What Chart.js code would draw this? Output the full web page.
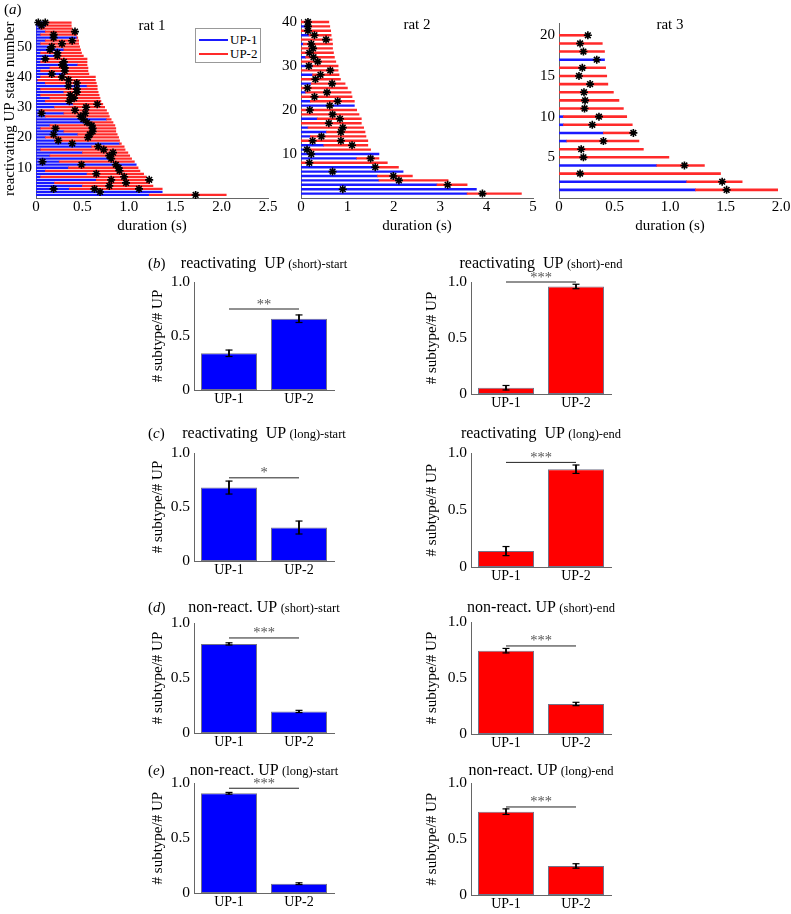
<!DOCTYPE html>
<html>
<head>
<meta charset="utf-8">
<title>UP state reactivation</title>
<script src="https://cdn.jsdelivr.net/npm/chart.js@4.4.1/dist/chart.umd.min.js"></script>
<style>
html,body{margin:0;padding:0;background:#fff;}
body{width:791px;height:914px;position:relative;overflow:hidden;font-family:"Liberation Serif","Times New Roman",serif;color:#000;}
canvas{position:absolute;}
.tx{position:absolute;white-space:pre;line-height:1;}
.legend{position:absolute;border:1px solid #999;background:#fff;}
.sw{position:absolute;height:1.6px;}
</style>
</head>
<body>
<script>
// ================= DATA =================
// rat 1: duration of each reactivating UP state (end), UP-1 part (blue, from 0), reactivation marks
const rat1End  = [2.05,1.36,1.36,1.26,1.22,1.20,1.19,1.16,1.12,1.10,1.08,1.06,1.03,1.01,0.99,0.96,0.95,0.92,0.90,0.89,0.875,0.86,0.86,0.85,0.83,0.81,0.79,0.78,0.76,0.74,0.72,0.70,0.69,0.68,0.67,0.66,0.66,0.65,0.64,0.64,0.57,0.56,0.56,0.55,0.55,0.55,0.51,0.49,0.48,0.47,0.46,0.46,0.45,0.44,0.43,0.39,0.38,0.38];
const rat1Blue = [1.22,1.36,0.36,0.5,0.2,0.65,0.05,0.55,0.1,0.35,1.08,0.25,0.8,0.15,0.5,0.05,0.6,0.9,0.2,0.1,0.45,0.3,0.05,0.15,0.55,0.76,0.1,0.3,0.05,0.2,0.4,0.1,0.15,0.05,0.3,0.05,0.55,0.1,0.02,0.05,0.3,0.05,0.15,0.45,0.05,0.1,0.2,0.05,0.3,0.15,0.05,0.1,0.44,0.05,0.1,0.05,0.1,0.12];
const rat1StarX   = [0.10,0.025,0.06,0.42,0.19,0.19,0.39,0.28,0.17,0.15,0.23,0.23,0.10,0.30,0.28,0.31,0.31,0.17,0.28,0.35,0.44,0.35,0.44,0.44,0.37,0.41,0.36,0.66,0.54,0.42,0.06,0.53,0.48,0.51,0.55,0.60,0.61,0.21,0.61,0.58,0.19,0.56,0.24,0.39,0.67,0.73,0.83,0.79,0.81,0.07,0.86,0.49,0.89,0.90,0.65,0.95,0.81,1.22,0.97,0.79,0.19,0.63,1.11,0.69,1.72];
const rat1StarRow = [58,58,57,55,54,53,52,51,50,49,48,47,46,45,44,43,42,41,40,39,38,37,36,35,34,33,32,31,30,29,28,28,27,26,25,24,23,23,22,21,21,20,19,18,17,16,15,14,13,12,11,11,10,9,8,7,6,6,5,4,3,3,3,2,1];
const rat1XTicks = [0,0.5,1,1.5,2,2.5];
const rat1XLabels = ['0','0.5','1.0','1.5','2.0','2.5'];
const rat1YTicks = [10,20,30,40,50];
const rat1YLabels = ['10','20','30','40','50'];

// rat 2
const rat2End  = [4.75,3.78,3.58,3.17,2.4,2.2,2.1,1.86,1.68,1.68,1.5,1.44,1.44,1.4,1.38,1.35,1.3,1.3,1.25,1.2,1.15,1.15,1.1,1.08,1.0,0.95,0.85,0.82,0.8,0.8,0.75,0.72,0.7,0.68,0.68,0.67,0.65,0.64,0.62,0.6];
const rat2Blue = [3.58,3.78,2.93,1.68,1.65,2.2,1.6,0,1.2,1.68,0.13,0.49,0,0.2,0.55,0.15,0,0.35,0,0,1.15,0.2,0,0.1,0,0.22,0,0.25,0,0.24,0,0.1,0,0,0.05,0,0.17,0,0.1,0];
const rat2StarX   = [3.91,0.90,3.16,2.11,1.99,0.68,1.60,0.18,1.50,0.22,0.13,1.10,0.86,0.25,0.44,0.86,0.90,0.60,0.84,0.68,0.19,0.62,0.79,0.29,0.56,0.14,0.67,0.31,0.42,0.63,0.17,0.36,0.27,0.18,0.26,0.22,0.54,0.29,0.15,0.15,0.15];
const rat2StarRow = [1,2,3,4,5,6,7,8,9,10,11,12,13,13,14,15,16,17,18,19,20,21,22,23,24,25,26,27,28,29,30,31,32,33,34,35,36,37,38,39,40];
const rat2XTicks = [0,1,2,3,4,5];
const rat2XLabels = ['0','1','2','3','4','5'];
const rat2YTicks = [10,20,30,40];
const rat2YLabels = ['10','20','30','40'];

// rat 3
const rat3End  = [1.97,1.65,1.455,1.31,0.99,0.76,0.72,0.66,0.66,0.61,0.58,0.54,0.49,0.44,0.43,0.42,0.41,0.41,0.39,0.26];
const rat3Blue = [1.23,1.15,0,0.88,0,0,0.07,0.40,0.04,0.04,0,0,0,0,0,0,0.41,0,0,0];
const rat3StarX   = [1.51,1.47,0.19,1.13,0.22,0.20,0.40,0.67,0.30,0.36,0.23,0.235,0.225,0.28,0.18,0.21,0.34,0.22,0.19,0.26];
const rat3StarRow = [1,2,3,4,5,6,7,8,9,10,11,12,13,14,15,16,17,18,19,20];
const rat3XTicks = [0,0.5,1,1.5,2];
const rat3XLabels = ['0','0.5','1.0','1.5','2.0'];
const rat3YTicks = [5,10,15,20];
const rat3YLabels = ['5','10','15','20'];

// bar panels: fraction of subtype (UP-1, UP-2), s.e.m., significance bar height
const barCats = ['UP-1','UP-2'];
const barYTicks = [0,0.5,1];
const barYLabels = ['0','0.5','1.0'];
const reactShortStartMean = [0.34,0.66],  reactShortStartErr = [0.03,0.035], reactShortStartSig = 0.75;
const reactShortEndMean   = [0.056,0.96], reactShortEndErr   = [0.02,0.02],  reactShortEndSig   = 1.0;
const reactLongStartMean  = [0.68,0.31],  reactLongStartErr  = [0.06,0.06],  reactLongStartSig  = 0.77;
const reactLongEndMean    = [0.14,0.86],  reactLongEndErr    = [0.04,0.037], reactLongEndSig    = 0.92;
const nonShortStartMean   = [0.81,0.196], nonShortStartErr   = [0.01,0.01],  nonShortStartSig   = 0.864;
const nonShortEndMean     = [0.744,0.268],nonShortEndErr     = [0.02,0.015], nonShortEndSig     = 0.786;
const nonLongStartMean    = [0.909,0.085],nonLongStartErr    = [0.008,0.008],nonLongStartSig    = 0.955;
const nonLongEndMean      = [0.746,0.26], nonLongEndErr      = [0.025,0.02], nonLongEndSig      = 0.788;

// ================= RENDERING =================
const FONT = '"Liberation Serif","Times New Roman",serif';
const AXIS = '#666';
const LINE_BLUE = '#1a1aff';
const LINE_RED = '#ff2a2a';

function makeCanvas(left, top, w, h) {
  const c = document.createElement('canvas');
  c.width = w; c.height = h;
  c.style.left = left + 'px'; c.style.top = top + 'px';
  c.style.width = w + 'px'; c.style.height = h + 'px';
  document.body.appendChild(c);
  return c;
}
function addText(html, x, y, size, o = {}) {
  const d = document.createElement('div');
  d.className = 'tx';
  d.innerHTML = html;
  d.style.fontSize = size + 'px';
  d.style.left = x + 'px';
  d.style.top = y + 'px';
  const tx = o.left ? '0' : '-50%';
  const ty = o.top ? '0' : '-50%';
  d.style.transform = 'translate(' + tx + ',' + ty + ')';
  if (o.color) d.style.color = o.color;
  document.body.appendChild(d);
  return d;
}

function raster(s) {
  const YW = s.yw, R = 12, XH = 40;
  const cl = Math.round(s.left) - YW;
  const w = Math.round(s.right) + R - cl;
  const h = s.bottom + XH;
  const cv = makeCanvas(cl, 0, w, h);
  const up1 = [], up2 = [];
  s.ends.forEach((e, i) => {
    const r = i + 1;
    if (s.blues[i] > 0) up1.push({y: r, x: [0, s.blues[i]]});
    if (e > s.blues[i]) up2.push({y: r, x: [s.blues[i], e]});
  });
  const stars = s.starX.map((x, i) => ({x: x, y: s.starRow[i]}));
  const tickFont = {family: FONT, size: 15};
  new Chart(cv, {
    type: 'bar',
    data: {datasets: [
      {type: 'scatter', label: 'reactivation', data: stars, pointStyle: 'star', pointRadius: 4,
       pointBorderWidth: 1.6, borderColor: '#000', backgroundColor: '#000', order: 0, clip: false},
      {label: 'UP-1', indexAxis: 'y', data: up1, backgroundColor: LINE_BLUE, barThickness: s.thick, grouped: false, order: 2},
      {label: 'UP-2', indexAxis: 'y', data: up2, backgroundColor: LINE_RED, barThickness: s.thick, grouped: false, order: 1}
    ]},
    options: {
      responsive: false, animation: false, events: [], devicePixelRatio: 1,
      layout: {padding: {left: 0, right: R, top: s.top, bottom: 0}},
      plugins: {legend: {display: false}, title: {display: false}, tooltip: {enabled: false}},
      scales: {
        x: {type: 'linear', min: 0, max: s.xMax, offset: false,
            afterBuildTicks: sc => { sc.ticks = s.xTicks.map(v => ({value: v})); },
            afterFit: sc => { sc.height = XH; },
            ticks: {callback: v => s.xLabels[s.xTicks.indexOf(v)], font: tickFont, color: '#000', padding: 0, maxRotation: 0, autoSkip: false},
            grid: {display: false, drawTicks: false, offset: false}, border: {display: true, color: AXIS, width: 1},
            title: {display: true, text: 'duration (s)', font: {family: FONT, size: 15}, color: '#000', padding: {top: 0, bottom: 3}}},
        y: {type: 'linear', min: 0, max: s.yMax, offset: false,
            afterBuildTicks: sc => { sc.ticks = s.yTicks.map(v => ({value: v})); },
            afterFit: sc => { sc.width = YW; },
            ticks: {callback: v => s.yLabels[s.yTicks.indexOf(v)], font: tickFont, color: '#000', padding: 4, autoSkip: false},
            grid: {display: false, drawTicks: false, offset: false}, border: {display: true, color: AXIS, width: 1},
            title: s.yTitle ? {display: true, text: s.yTitle, font: {family: FONT, size: 15}, color: '#000', padding: {top: 1, bottom: 0}} : {display: false}}
      }
    }
  });
}

raster({ends: rat1End, blues: rat1Blue, starX: rat1StarX, starRow: rat1StarRow, xMax: 2.5, yMax: 59,
  xTicks: rat1XTicks, xLabels: rat1XLabels, yTicks: rat1YTicks, yLabels: rat1YLabels,
  left: 36, right: 268, top: 19.5, bottom: 198, yw: 36, thick: 1.6, yTitle: 'reactivating UP state number'});
raster({ends: rat2End, blues: rat2Blue, starX: rat2StarX, starRow: rat2StarRow, xMax: 5, yMax: 40.5,
  xTicks: rat2XTicks, xLabels: rat2XLabels, yTicks: rat2YTicks, yLabels: rat2YLabels,
  left: 301, right: 533, top: 19.8, bottom: 198, yw: 30, thick: 1.7});
raster({ends: rat3End, blues: rat3Blue, starX: rat3StarX, starRow: rat3StarRow, xMax: 2, yMax: 21.5,
  xTicks: rat3XTicks, xLabels: rat3XLabels, yTicks: rat3YTicks, yLabels: rat3YLabels,
  left: 559, right: 781, top: 23.1, bottom: 198, yw: 30, thick: 1.9});

addText('(<i>a</i>)', 4, 9, 15, {left: true});
addText('rat 1', 152, 25, 15);
addText('rat 2', 417, 24, 15);
addText('rat 3', 670, 24, 15);

// legend (panel a, rat 1)
(function () {
  const lg = document.createElement('div');
  lg.className = 'legend';
  lg.style.left = '195px'; lg.style.top = '28px'; lg.style.width = '64px'; lg.style.height = '33px';
  document.body.appendChild(lg);
  const s1 = document.createElement('div'); s1.className = 'sw';
  s1.style.cssText += 'left:3px;top:10px;width:29px;background:' + LINE_BLUE + ';';
  const s2 = document.createElement('div'); s2.className = 'sw';
  s2.style.cssText += 'left:3px;top:24px;width:29px;background:' + LINE_RED + ';';
  lg.appendChild(s1); lg.appendChild(s2);
  addText('UP-1', 230, 39, 13, {left: true});
  addText('UP-2', 230, 53, 13, {left: true});
})();

function barPanel(p) {
  const YW = 60, R = 12, T = 30, XH = 32, W = 140;
  const cl = Math.round(p.left) - YW;
  const ct = Math.round(p.top) - T;
  const h = Math.round(p.bottom) - ct + XH;
  const w = YW + W + R;
  const cv = makeCanvas(cl, ct, w, h);
  const lo = p.means.map((m, i) => m - p.errs[i]);
  const hi = p.means.map((m, i) => m + p.errs[i]);
  const capStyle = {type: 'line', showLine: false, pointStyle: 'line', pointRadius: 3.5, pointBorderWidth: 1.2,
                    pointBorderColor: '#000', borderColor: '#000', backgroundColor: '#000', clip: false};
  const chart = new Chart(cv, {
    type: 'bar',
    data: {labels: barCats, datasets: [
      {type: 'line', label: 'significance', data: [p.sig, p.sig], borderColor: '#222', borderWidth: 1, pointRadius: 0, order: 0, clip: false},
      Object.assign({label: 'sem low', data: lo, order: 1}, capStyle),
      Object.assign({label: 'sem high', data: hi, order: 1}, capStyle),
      {label: 'sem', data: lo.map((l, i) => [l, hi[i]]), backgroundColor: '#000', barThickness: 1.2, grouped: false, order: 2},
      {label: 'fraction', data: p.means, backgroundColor: p.color, borderColor: 'rgba(0,0,40,0.55)', borderWidth: 1,
       borderSkipped: false, barPercentage: 0.8, categoryPercentage: 1, grouped: false, order: 3}
    ]},
    options: {
      responsive: false, animation: false, events: [], devicePixelRatio: 1,
      layout: {padding: {left: 0, right: R, top: T + (p.top - Math.round(p.top)), bottom: 0}},
      plugins: {legend: {display: false}, title: {display: false}, tooltip: {enabled: false}},
      scales: {
        x: {type: 'category', offset: true, afterFit: sc => { sc.height = XH; },
            ticks: {font: {family: FONT, size: 14}, color: '#000', padding: 1},
            grid: {display: false, drawTicks: false}, border: {display: true, color: AXIS, width: 1}},
        y: {type: 'linear', min: 0, max: 1, offset: false,
            afterBuildTicks: sc => { sc.ticks = barYTicks.map(v => ({value: v})); },
            afterFit: sc => { sc.width = YW; },
            ticks: {callback: v => barYLabels[barYTicks.indexOf(v)], font: {family: FONT, size: 15.5}, color: '#000', padding: 4, autoSkip: false},
            grid: {display: false, drawTicks: false}, border: {display: true, color: AXIS, width: 1},
            title: {display: true, text: '# subtype/# UP', font: {family: FONT, size: 15}, color: '#000',
                    padding: {top: Math.max(0, p.yTitleX - cl - 9), bottom: 0}}}
      }
    }
  });
  const xs = chart.scales.x, ys = chart.scales.y;
  const cx = cl + (xs.getPixelForValue(0) + xs.getPixelForValue(1)) / 2;
  const cy = ct + ys.getPixelForValue(p.sig);
  addText(p.stars, cx, cy - 12.5, 14.5, {top: true, color: '#555'});
  const tx = cl + YW + W / 2;
  addText(p.title, tx, p.titleY, 16);
  if (p.letter) addText(p.letter, 148, p.titleY, 15, {left: true});
}

const BLUE = '#0000ff', RED = '#ff0000';
const LX = 193.7, RX = 471.3;
const ttl = (a, b) => a + '<span style="font-size:12.5px">' + b + '</span>';

barPanel({left: LX, top: 282, bottom: 390, means: reactShortStartMean, errs: reactShortStartErr, sig: reactShortStartSig, stars: '**',
  color: BLUE, yTitleX: 158, titleY: 263, title: ttl('reactivating  UP ', '(short)-start'), letter: '(<i>b</i>)'});
barPanel({left: RX, top: 282, bottom: 394, means: reactShortEndMean, errs: reactShortEndErr, sig: reactShortEndSig, stars: '***',
  color: RED, yTitleX: 432, titleY: 263, title: ttl('reactivating  UP ', '(short)-end')});
barPanel({left: LX, top: 453, bottom: 560.5, means: reactLongStartMean, errs: reactLongStartErr, sig: reactLongStartSig, stars: '*',
  color: BLUE, yTitleX: 158, titleY: 433, title: ttl('reactivating  UP ', '(long)-start'), letter: '(<i>c</i>)'});
barPanel({left: RX, top: 453.3, bottom: 566.7, means: reactLongEndMean, errs: reactLongEndErr, sig: reactLongEndSig, stars: '***',
  color: RED, yTitleX: 432, titleY: 433, title: ttl('reactivating  UP ', '(long)-end')});
barPanel({left: LX, top: 623, bottom: 733.3, means: nonShortStartMean, errs: nonShortStartErr, sig: nonShortStartSig, stars: '***',
  color: BLUE, yTitleX: 158, titleY: 607, title: ttl('non-react. UP ', '(short)-start'), letter: '(<i>d</i>)'});
barPanel({left: RX, top: 622, bottom: 734, means: nonShortEndMean, errs: nonShortEndErr, sig: nonShortEndSig, stars: '***',
  color: RED, yTitleX: 432, titleY: 607, title: ttl('non-react. UP ', '(short)-end')});
barPanel({left: LX, top: 783.3, bottom: 893.3, means: nonLongStartMean, errs: nonLongStartErr, sig: nonLongStartSig, stars: '***',
  color: BLUE, yTitleX: 158, titleY: 770, title: ttl('non-react. UP ', '(long)-start'), letter: '(<i>e</i>)'});
barPanel({left: RX, top: 783.3, bottom: 895, means: nonLongEndMean, errs: nonLongEndErr, sig: nonLongEndSig, stars: '***',
  color: RED, yTitleX: 432, titleY: 770, title: ttl('non-react. UP ', '(long)-end')});
</script>
</body>
</html>
